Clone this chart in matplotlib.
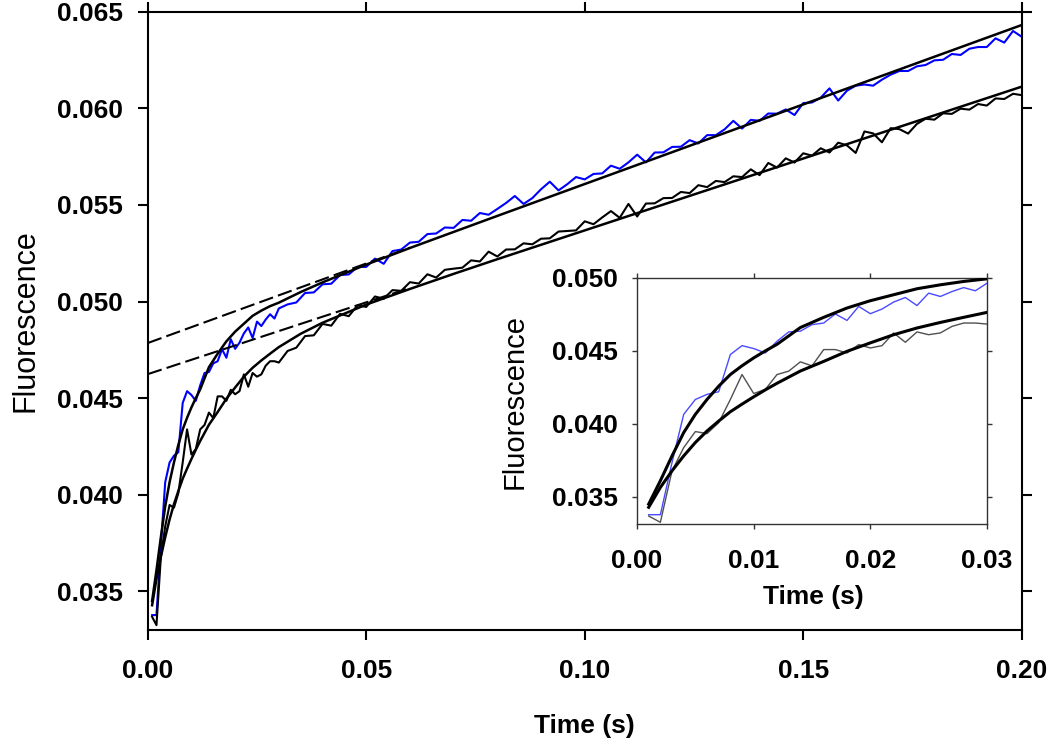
import matplotlib
matplotlib.use("Agg")
import matplotlib.pyplot as plt
import numpy as np

plt.rcParams['font.family'] = ['Liberation Sans', 'DejaVu Sans']

# ---------------- data ----------------
t_early = [0.001, 0.002, 0.003, 0.004, 0.005, 0.006, 0.007, 0.008, 0.009, 0.010,
           0.011, 0.012, 0.013, 0.014, 0.015, 0.016, 0.017, 0.018, 0.019, 0.020,
           0.021, 0.022, 0.023, 0.024, 0.025, 0.026, 0.027, 0.028, 0.029, 0.030]
t_late = [0.032, 0.034, 0.036, 0.038, 0.040, 0.042, 0.044, 0.046, 0.048, 0.050,
          0.052, 0.054, 0.056, 0.058, 0.060, 0.062, 0.064, 0.066, 0.068, 0.070,
          0.072, 0.074, 0.076, 0.078, 0.080, 0.082, 0.084, 0.086, 0.088, 0.090,
          0.092, 0.094, 0.096, 0.098, 0.100, 0.102, 0.104, 0.106, 0.108, 0.110,
          0.112, 0.114, 0.116, 0.118, 0.120, 0.122, 0.124, 0.126, 0.128, 0.130,
          0.132, 0.134, 0.136, 0.138, 0.140, 0.142, 0.144, 0.146, 0.148, 0.150,
          0.152, 0.154, 0.156, 0.158, 0.160, 0.162, 0.164, 0.166, 0.168, 0.170,
          0.172, 0.174, 0.176, 0.178, 0.180, 0.182, 0.184, 0.186, 0.188, 0.190,
          0.192, 0.194, 0.196, 0.198, 0.200]

blue_early = [0.03377, 0.03377, 0.03735, 0.04065, 0.04167, 0.04202, 0.04220, 0.04475, 0.04536, 0.04516,
              0.04486, 0.04566, 0.04630, 0.04635, 0.04680, 0.04691, 0.04753, 0.04709, 0.04805, 0.04755,
              0.04787, 0.04835, 0.04866, 0.04811, 0.04896, 0.04873, 0.04907, 0.04934, 0.04912, 0.04964]
blue_late = [0.04985, 0.04995, 0.05044, 0.05047, 0.05089, 0.05092, 0.05137, 0.05140, 0.05179, 0.05179,
             0.05222, 0.05195, 0.05261, 0.05269, 0.05305, 0.05309, 0.05349, 0.05352, 0.05383, 0.05381,
             0.05422, 0.05418, 0.05458, 0.05449, 0.05479, 0.05510, 0.05546, 0.05505, 0.05535, 0.05581,
             0.05620, 0.05575, 0.05607, 0.05644, 0.05632, 0.05660, 0.05663, 0.05703, 0.05687, 0.05720,
             0.05760, 0.05720, 0.05771, 0.05772, 0.05800, 0.05801, 0.05835, 0.05818, 0.05861, 0.05861,
             0.05891, 0.05935, 0.05895, 0.05940, 0.05935, 0.05973, 0.05972, 0.05994, 0.05965, 0.06027,
             0.06030, 0.06055, 0.06103, 0.06040, 0.06091, 0.06117, 0.06123, 0.06117, 0.06148, 0.06174,
             0.06193, 0.06193, 0.06217, 0.06224, 0.06248, 0.06251, 0.06281, 0.06276, 0.06308, 0.06317,
             0.06317, 0.06362, 0.06340, 0.06400, 0.06370]

gray_early = [0.03368, 0.03325, 0.03678, 0.03837, 0.03947, 0.03933, 0.04008, 0.04167, 0.04338, 0.04208,
              0.04236, 0.04338, 0.04361, 0.04425, 0.04397, 0.04509, 0.04509, 0.04486, 0.04543, 0.04520,
              0.04536, 0.04623, 0.04559, 0.04630, 0.04611, 0.04623, 0.04668, 0.04691, 0.04691, 0.04684]
gray_late = [0.04744, 0.04761, 0.04821, 0.04825, 0.04884, 0.04875, 0.04936, 0.04924, 0.04980, 0.04972,
             0.05026, 0.05014, 0.05059, 0.05055, 0.05100, 0.05093, 0.05141, 0.05124, 0.05164, 0.05170,
             0.05175, 0.05213, 0.05207, 0.05258, 0.05233, 0.05269, 0.05270, 0.05301, 0.05296, 0.05325,
             0.05327, 0.05362, 0.05365, 0.05368, 0.05415, 0.05400, 0.05435, 0.05468, 0.05433, 0.05505,
             0.05440, 0.05507, 0.05508, 0.05535, 0.05536, 0.05567, 0.05561, 0.05602, 0.05592, 0.05624,
             0.05618, 0.05648, 0.05644, 0.05684, 0.05654, 0.05717, 0.05693, 0.05741, 0.05719, 0.05767,
             0.05755, 0.05793, 0.05771, 0.05822, 0.05808, 0.05769, 0.05880, 0.05870, 0.05824, 0.05897,
             0.05892, 0.05869, 0.05919, 0.05946, 0.05941, 0.05974, 0.05971, 0.05998, 0.05993, 0.06022,
             0.06014, 0.06051, 0.06048, 0.06075, 0.06068]

# fitted curves
fit_up_t = [0.001, 0.002, 0.003, 0.004, 0.005, 0.006, 0.007, 0.008, 0.009, 0.010, 0.011, 0.012,
            0.014, 0.016, 0.018, 0.020, 0.022, 0.024, 0.026, 0.028, 0.030, 0.035, 0.040, 0.050,
            0.060, 0.080, 0.100, 0.150, 0.200]
fit_up_v = [0.03450, 0.03610, 0.03780, 0.03940, 0.04065, 0.04167, 0.04258, 0.04338, 0.04398, 0.04452,
            0.04500, 0.04545, 0.04660, 0.04730, 0.04794, 0.04844, 0.04885, 0.04926, 0.04953, 0.04976,
            0.04994, 0.05049, 0.05099, 0.05191, 0.05277, 0.05443, 0.05608, 0.06020, 0.06431]
fit_lo_t = [0.001, 0.002, 0.003, 0.004, 0.005, 0.006, 0.007, 0.008, 0.009, 0.010, 0.011, 0.012,
            0.013, 0.014, 0.016, 0.018, 0.020, 0.022, 0.024, 0.026, 0.028, 0.030, 0.035, 0.040,
            0.050, 0.060, 0.070, 0.080, 0.100, 0.150, 0.200]
fit_lo_v = [0.03428, 0.03564, 0.03678, 0.03780, 0.03872, 0.03951, 0.04019, 0.04083, 0.04135, 0.04185,
            0.04233, 0.04278, 0.04320, 0.04362, 0.04428, 0.04497, 0.04555, 0.04611, 0.04657, 0.04695,
            0.04730, 0.04764, 0.04833, 0.04890, 0.04984, 0.05065, 0.05143, 0.05219, 0.05368, 0.05740,
            0.06112]

# linear extrapolations (dashed)
dash_t = [0.0, 0.06]
dash_up = [0.04785, 0.05279]
dash_lo = [0.04624, 0.05070]

main_xticks = [0.00, 0.05, 0.10, 0.15, 0.20]
main_yticks = [0.035, 0.040, 0.045, 0.050, 0.055, 0.060, 0.065]
ins_xticks = [0.00, 0.01, 0.02, 0.03]
ins_yticks = [0.035, 0.040, 0.045, 0.050]

t_all = t_early + t_late
blue_all = blue_early + blue_late
gray_all = gray_early + gray_late

# ---------------- figure ----------------
fig = plt.figure(figsize=(10.5, 7.43), dpi=100)
ax = fig.add_axes([0.1407, 0.1521, 0.8324, 0.8322])

ax.plot(t_all, blue_all, color='#0000ff', lw=1.5, zorder=2)
ax.plot(t_all, gray_all, color='black', lw=1.5, zorder=2)
for dv in (dash_up, dash_lo):
    l, = ax.plot(dash_t, dv, color='black', lw=1.5, zorder=2)
    l.set_dashes([7, 2.5])
ax.plot(fit_up_t, fit_up_v, color='black', lw=1.8, zorder=3)
ax.plot(fit_lo_t, fit_lo_v, color='black', lw=1.8, zorder=3)

ax.set_xlim(0, 0.2)
ax.set_ylim(0.033, 0.065)
ax.set_xticks(main_xticks)
ax.set_xticklabels([f"{v:.2f}" for v in main_xticks])
ax.set_yticks(main_yticks)
ax.set_yticklabels([f"{v:.3f}" for v in main_yticks])
for s in ax.spines.values():
    s.set_linewidth(1.5)
ax.tick_params(axis='both', which='major', direction='out', length=7, width=1.5,
               top=True, right=True, labelsize=19)
ax.tick_params(axis='y', pad=11)
ax.tick_params(axis='x', pad=14)
for lab in ax.get_xticklabels() + ax.get_yticklabels():
    lab.set_fontweight('bold')
ax.set_xlabel('Time (s)', fontsize=19, fontweight='bold', va='center')
ax.xaxis.set_label_coords(0.5, -0.155)
ax.set_ylabel('Fluorescence', fontsize=22, va='center')
ax.yaxis.set_label_coords(-0.140, 0.50)

# ---------------- inset ----------------
ins = fig.add_axes([0.6067, 0.2941, 0.3333, 0.3318])
ins.set_facecolor('white')
ins.plot(t_early, blue_early, color='#4a4aff', lw=1.0, zorder=2)
ins.plot(t_early, gray_early, color='#505050', lw=1.0, zorder=2)
ins.plot(fit_up_t, fit_up_v, color='black', lw=2.2, zorder=3)
ins.plot(fit_lo_t, fit_lo_v, color='black', lw=2.2, zorder=3)
ins.set_xlim(0, 0.03)
ins.set_ylim(0.0331, 0.050)
ins.set_xticks(ins_xticks)
ins.set_xticklabels([f"{v:.2f}" for v in ins_xticks])
ins.set_yticks(ins_yticks)
ins.set_yticklabels([f"{v:.3f}" for v in ins_yticks])
for s in ins.spines.values():
    s.set_linewidth(1.0)
    s.set_color('#333333')
ins.tick_params(axis='both', which='major', direction='out', length=3.5, width=1.0,
                top=True, right=True, labelsize=19, color='#333333')
ins.tick_params(axis='y', pad=10)
ins.tick_params(axis='x', pad=14)
for lab in ins.get_xticklabels() + ins.get_yticklabels():
    lab.set_fontweight('bold')
ins.set_xlabel('Time (s)', fontsize=19, fontweight='bold', va='center')
ins.xaxis.set_label_coords(0.503, -0.294)
ins.set_ylabel('Fluorescence', fontsize=21, va='center')
ins.yaxis.set_label_coords(-0.351, 0.50)

fig.savefig('out.png', dpi=100)
